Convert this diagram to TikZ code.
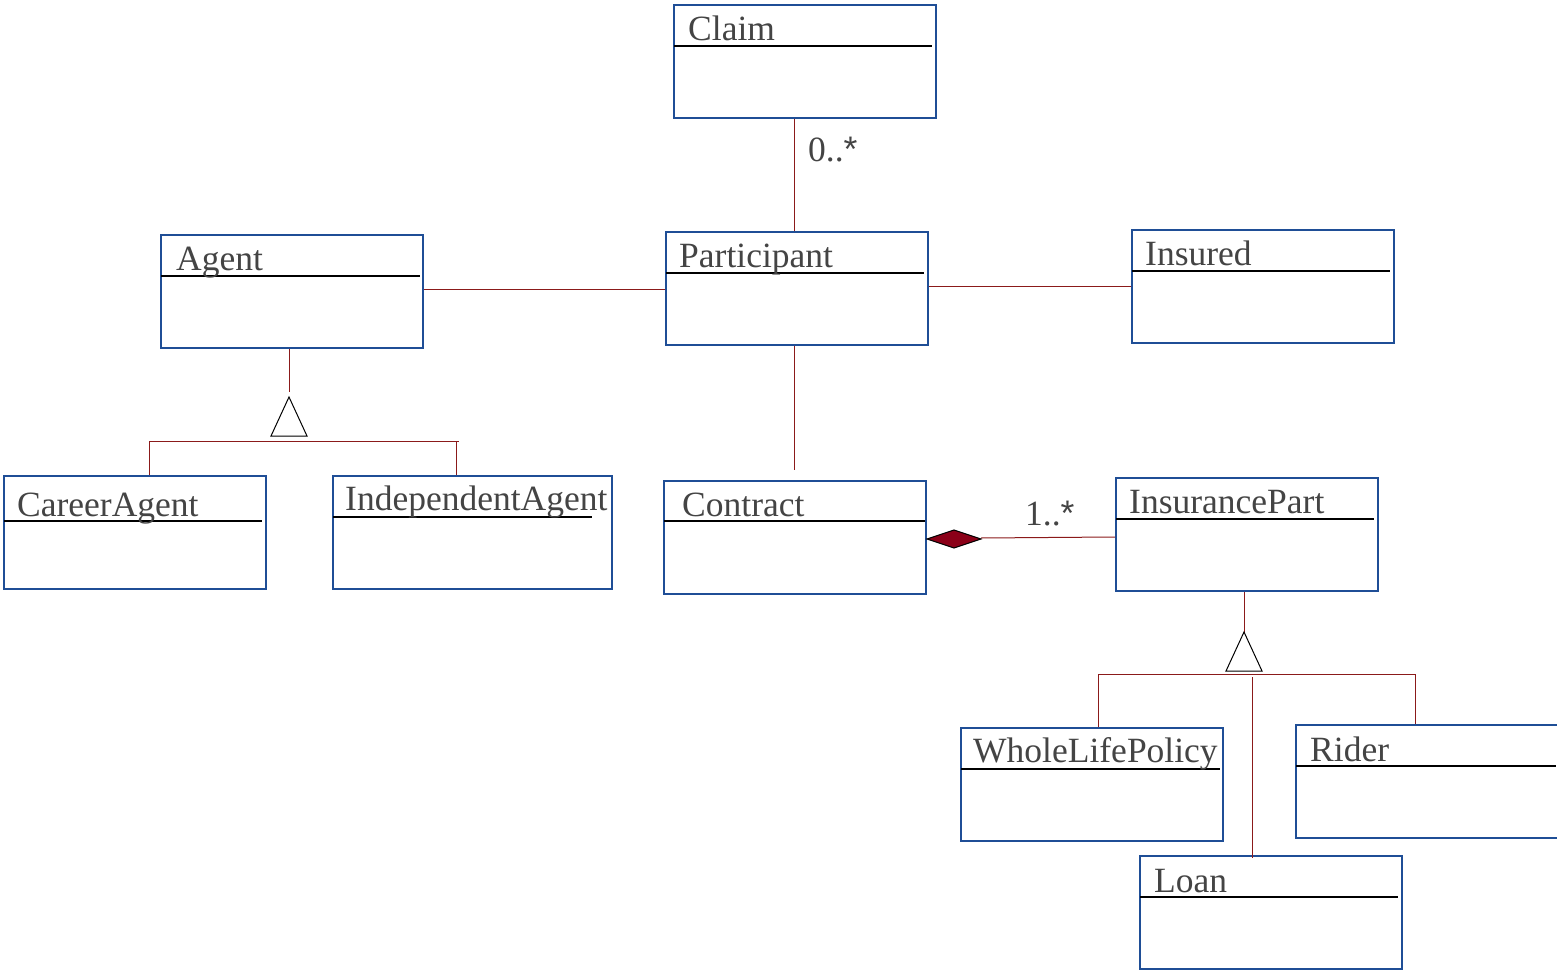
\documentclass[tikz,border=0pt]{standalone}
\usepackage{fontspec}
\setmainfont{Liberation Serif}
\newfontfamily\astfont{Liberation Sans}
\definecolor{boxblue}{HTML}{1F4E96}
\definecolor{linkred}{HTML}{8B1A1A}
\definecolor{dmdred}{HTML}{8B0018}
\definecolor{txtgray}{HTML}{444444}
\begin{document}
\begin{tikzpicture}[x=1pt,y=-1pt,
  cls/.style={draw=boxblue,line width=2pt,fill=white,anchor=north west,inner sep=0pt,minimum width=262pt,minimum height=113pt},
  divider/.style={line width=2pt,black},
  title/.style={anchor=base west,inner sep=0pt,text=txtgray,font=\fontsize{35.5}{40}\selectfont},
  mult/.style={anchor=base west,inner sep=0pt,text=txtgray,font=\fontsize{35.5}{40}\selectfont},
  assoc/.style={draw=linkred,line width=1pt},
  gentri/.style={draw=black,line width=1pt,fill=white,line join=miter}]
\useasboundingbox (0,0) rectangle (1557,973);
% classes
\node[cls] (claim) at (673,4) {};
\node[cls] (participant) at (665,231) {};
\node[cls] (agent) at (160,234) {};
\node[cls] (insured) at (1131,229) {};
\node[cls] (career) at (3,475) {};
\node[cls,minimum width=279pt] (indep) at (332,475) {};
\node[cls] (contract) at (663,480) {};
\node[cls] (inspart) at (1115,477) {};
\node[cls] (whole) at (960,727) {};
\node[cls] (rider) at (1295,724) {};
\node[cls] (loan) at (1139,855) {};
% dividers
\draw[divider] (674,46) -- (932,46);
\draw[divider] (666,273) -- (924,273);
\draw[divider] (161,276) -- (420,276);
\draw[divider] (1132,271) -- (1390,271);
\draw[divider] (4,521) -- (262,521);
\draw[divider] (333,517) -- (592,517);
\draw[divider] (664,521) -- (925,521);
\draw[divider] (1116,519) -- (1374,519);
\draw[divider] (961,769) -- (1220,769);
\draw[divider] (1296,766) -- (1556,766);
\draw[divider] (1140,897) -- (1398,897);
% titles
\node[title] (tclaim) at (688,41) {Claim};
\node[title] (tpart) at (679,268) {Participant};
\node[title] (tagent) at (176,271) {Agent};
\node[title] (tins) at (1145,266) {Insured};
\node[title] (tcareer) at (17,516) {CareerAgent};
\node[title] (tindep) at (345,510) {IndependentAgent};
\node[title] (tcontract) at (682,516) {Contract};
\node[title] (tinspart) at (1129,513) {InsurancePart};
\node[title] (twhole) at (973,762) {WholeLifePolicy};
\node[title] (trider) at (1310,761) {Rider};
\node[title] (tloan) at (1154,892) {Loan};
% associations
\draw[assoc] (794,0 |- claim.south) -- (794,0 |- participant.north);
\node[mult] (m1) at (808,162) {0..{\astfont *}};
\draw[assoc] (agent.east |- 0,290) -- (participant.west |- 0,290);
\draw[assoc] (participant.east |- 0,287) -- (insured.west |- 0,287);
\draw[assoc] (794,0 |- participant.south) -- (794,470);
% composition
\coordinate (dtip) at (contract.east |- 0,539);
\draw[assoc] (981,538) -- (inspart.west |- 0,537);
\draw[draw=black,line width=1pt,fill=dmdred] (dtip) -- (954,530) -- (981,539) -- (954,548) -- cycle;
\node[mult] (m2) at (1025,525) {1..{\astfont *}};
% generalization Agent
\draw[assoc] (289,0 |- agent.south) -- (289,392);
\draw[gentri] (289,397) -- (307,436) -- (271,436) -- cycle;
\draw[assoc] (150,441) -- (459,441);
\draw[assoc] (149,441) -- (149,0 |- career.north);
\draw[assoc] (456,441) -- (456,0 |- indep.north);
% generalization InsurancePart
\draw[assoc] (1244,0 |- inspart.south) -- (1244,636);
\draw[gentri] (1244,632) -- (1262,671) -- (1226,671) -- cycle;
\draw[assoc] (1098,674) -- (1415,674);
\draw[assoc] (1098,674) -- (1098,0 |- whole.north);
\draw[assoc] (1415,674) -- (1415,0 |- rider.north);
\draw[assoc] (1252,677) -- (1252,858);
\end{tikzpicture}
\end{document}
